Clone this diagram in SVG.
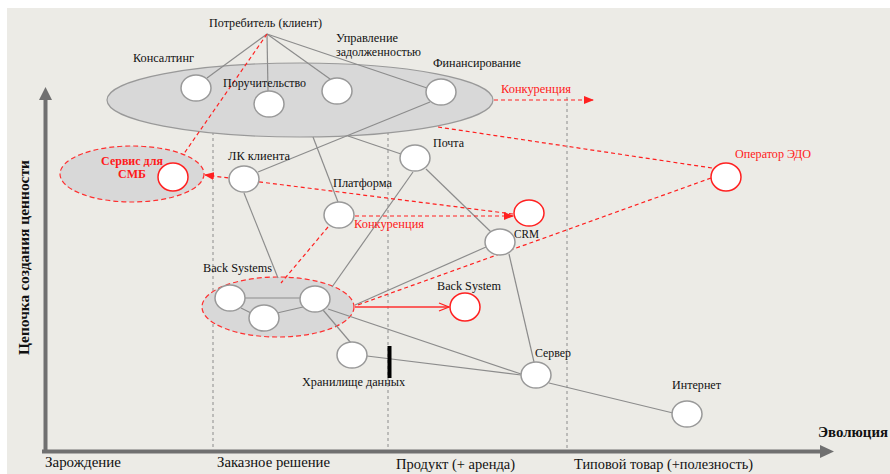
<svg xmlns="http://www.w3.org/2000/svg" width="890" height="474" viewBox="0 0 890 474">
<defs>
<style>
.t{font-family:"Liberation Serif","DejaVu Serif",serif;font-size:12px;fill:#111}
.ax{font-family:"Liberation Serif","DejaVu Serif",serif;font-size:14px;fill:#111}
.b{font-weight:bold}
.red{fill:#ff1a1a}
.n{fill:#fff;stroke:#999;stroke-width:1.5}
.nr{fill:#fff;stroke:#ff2020;stroke-width:1.5}
.l{stroke:#8c8c8c;stroke-width:1.2;fill:none}
.rd{stroke:#ff2020;stroke-width:1.2;stroke-dasharray:4,3;fill:none}
.vd{stroke:#8c8c8c;stroke-width:1;stroke-dasharray:3,3;fill:none}
</style>
<marker id="ar" markerWidth="10" markerHeight="8" refX="9" refY="4" orient="auto" markerUnits="userSpaceOnUse">
<path d="M0,0 L10,4 L0,8 Z" fill="#ff2020"/>
</marker>
<marker id="ao" markerWidth="12" markerHeight="10" refX="11" refY="5" orient="auto" markerUnits="userSpaceOnUse">
<path d="M1,1 L11,5 L1,9" fill="none" stroke="#ff2020" stroke-width="1.2"/>
</marker>
</defs>
<rect x="0" y="0" width="890" height="474" fill="#fff"/>
<rect x="7" y="8" width="883" height="466" fill="#ecebe6"/>

<g id="grid">
<line class="vd" x1="213" y1="90" x2="213" y2="450"/>
<line class="vd" x1="388" y1="84" x2="388" y2="450"/>
<line class="vd" x1="567" y1="97" x2="567" y2="450"/>
</g>

<g id="axes">
<line x1="45.5" y1="98" x2="45.5" y2="453" stroke="#707070" stroke-width="4"/>
<path d="M39,100 L45.5,87 L52,100 Z" fill="#707070"/>
<line x1="42" y1="451.5" x2="822" y2="451.5" stroke="#707070" stroke-width="4"/>
<path d="M820,445 L834,451.5 L820,458 Z" fill="#707070"/>
<text class="ax b" transform="translate(29,355) rotate(-90)" font-size="15" textLength="195" lengthAdjust="spacingAndGlyphs">Цепочка создания ценности</text>
<text class="ax b" x="818" y="437" font-size="15" textLength="70" lengthAdjust="spacingAndGlyphs">Эволюция</text>
<text class="ax" x="45" y="467" textLength="76" lengthAdjust="spacingAndGlyphs">Зарождение</text>
<text class="ax" x="217" y="467" textLength="113" lengthAdjust="spacingAndGlyphs">Заказное решение</text>
<text class="ax" x="396" y="469" textLength="119" lengthAdjust="spacingAndGlyphs">Продукт (+ аренда)</text>
<text class="ax" x="574" y="469" textLength="179" lengthAdjust="spacingAndGlyphs">Типовой товар (+полезность)</text>
</g>

<g id="groups">
<ellipse id="top-cluster" cx="300" cy="100" rx="193" ry="37" fill="#d8d8d8" stroke="#999" stroke-width="1.2"/>
<ellipse id="smb-cluster" cx="132" cy="174" rx="72" ry="28" fill="#d8d8d8" stroke="#ff3030" stroke-width="1.2" stroke-dasharray="5,3"/>
<ellipse id="back-cluster" cx="278" cy="307" rx="76" ry="30" fill="#d8d8d8" stroke="#ff3030" stroke-width="1.2" stroke-dasharray="5,3"/>
</g>

<g id="connectors">
<line class="l" x1="267" y1="34" x2="207" y2="78"/>
<line class="l" x1="267" y1="34" x2="268" y2="91"/>
<line class="l" x1="267" y1="34" x2="330" y2="79"/>
<line class="l" x1="267" y1="34" x2="427" y2="88"/>
<line class="l" x1="258" y1="172" x2="430" y2="102"/>
<line class="l" x1="313" y1="137" x2="338" y2="202"/>
<line class="l" x1="348" y1="136" x2="401" y2="154"/>
<line class="l" x1="426" y1="169" x2="491" y2="232"/>
<line class="l" x1="413" y1="172" x2="332" y2="287"/>
<line class="l" x1="486" y1="247" x2="355" y2="305"/>
<line class="l" x1="509" y1="254" x2="534" y2="362"/>
<line class="l" x1="244" y1="193" x2="278" y2="278"/>
<line class="l" x1="245" y1="298" x2="300" y2="298"/>
<line class="l" x1="241" y1="308" x2="251" y2="313"/>
<line class="l" x1="277" y1="313" x2="303" y2="307"/>
<line class="l" x1="323" y1="310" x2="351" y2="343"/>
<line class="l" x1="328" y1="309" x2="521" y2="374"/>
<line class="l" x1="367" y1="356" x2="521" y2="375"/>
<line class="l" x1="549" y1="383" x2="673" y2="413"/>
<line x1="389.5" y1="346" x2="389.5" y2="378" stroke="#000" stroke-width="4"/>
<line class="rd" x1="267" y1="34" x2="183" y2="155"/>
<line class="rd" x1="494" y1="100" x2="593" y2="100" marker-end="url(#ar)"/>
<line class="rd" x1="438" y1="127" x2="712" y2="168"/>
<line class="rd" x1="711" y1="178" x2="355" y2="306"/>
<line class="rd" x1="513" y1="214" x2="205" y2="175" marker-end="url(#ar)"/>
<line class="rd" x1="355" y1="216" x2="513" y2="216" marker-end="url(#ar)"/>
<line class="rd" x1="328" y1="227" x2="281" y2="283"/>
<line x1="355" y1="307" x2="449" y2="307" stroke="#ff3030" stroke-width="1.5" marker-end="url(#ao)"/>
</g>

<g id="labels">
<text class="t" x="209" y="27" textLength="113" lengthAdjust="spacingAndGlyphs">Потребитель (клиент)</text>
<text class="t red" x="501" y="93" textLength="70" lengthAdjust="spacingAndGlyphs">Конкуренция</text>
<text class="t red" x="354" y="228" textLength="70" lengthAdjust="spacingAndGlyphs">Конкуренция</text>
</g>

<g id="n-consulting"><ellipse class="n" cx="196" cy="88" rx="15" ry="13"/><text class="t" x="133" y="62" textLength="61" lengthAdjust="spacingAndGlyphs">Консалтинг</text></g>
<g id="n-guarantee"><ellipse class="n" cx="269" cy="104" rx="15" ry="13"/><text class="t" x="223" y="87" textLength="83" lengthAdjust="spacingAndGlyphs">Поручительство</text></g>
<g id="n-debt"><ellipse class="n" cx="337" cy="91" rx="15" ry="13"/><text class="t" x="336" y="42" textLength="62" lengthAdjust="spacingAndGlyphs">Управление</text><text class="t" x="336" y="56" textLength="85" lengthAdjust="spacingAndGlyphs">задолженностью</text></g>
<g id="n-finance"><ellipse class="n" cx="441" cy="92" rx="15" ry="13"/><text class="t" x="433" y="67" textLength="88" lengthAdjust="spacingAndGlyphs">Финансирование</text></g>
<g id="n-smb"><ellipse class="nr" cx="173" cy="177" rx="15" ry="14"/><text class="t b red" x="132" y="165" text-anchor="middle" font-size="11">Сервис для</text><text class="t b red" x="132" y="178" text-anchor="middle" font-size="11">СМБ</text></g>
<g id="n-lk"><ellipse class="n" cx="244" cy="179" rx="15" ry="13"/><text class="t" x="228" y="160" textLength="62" lengthAdjust="spacingAndGlyphs">ЛК клиента</text></g>
<g id="n-platform"><ellipse class="n" cx="339" cy="215" rx="15" ry="13"/><text class="t" x="333" y="187" textLength="59" lengthAdjust="spacingAndGlyphs">Платформа</text></g>
<g id="n-mail"><ellipse class="n" cx="415" cy="158" rx="15" ry="13"/><text class="t" x="433" y="147" textLength="31" lengthAdjust="spacingAndGlyphs">Почта</text></g>
<g id="n-crm-comp"><ellipse class="nr" cx="529" cy="213" rx="15" ry="13"/></g>
<g id="n-crm"><ellipse class="n" cx="500" cy="242" rx="15" ry="13"/><text class="t" x="514" y="238" textLength="25" lengthAdjust="spacingAndGlyphs">CRM</text></g>
<g id="n-edo"><ellipse class="nr" cx="726" cy="177" rx="15" ry="14"/><text class="t red" x="735" y="158" textLength="76" lengthAdjust="spacingAndGlyphs">Оператор ЭДО</text></g>
<g id="n-back-label"><text class="t" x="203" y="272" textLength="69" lengthAdjust="spacingAndGlyphs">Back Systems</text></g>
<g id="n-bs1"><ellipse class="n" cx="230" cy="298" rx="15" ry="13"/></g>
<g id="n-bs2"><ellipse class="n" cx="264" cy="318" rx="15" ry="13"/></g>
<g id="n-bs3"><ellipse class="n" cx="315" cy="299" rx="15" ry="13"/></g>
<g id="n-backsys"><ellipse class="nr" cx="465" cy="307" rx="15" ry="14"/><text class="t" x="437" y="290" textLength="64" lengthAdjust="spacingAndGlyphs">Back System</text></g>
<g id="n-storage"><ellipse class="n" cx="352" cy="355" rx="15" ry="13"/><text class="t" x="302" y="386" textLength="103" lengthAdjust="spacingAndGlyphs">Хранилище данных</text></g>
<g id="n-server"><ellipse class="n" cx="536" cy="375" rx="15" ry="13"/><text class="t" x="535" y="357" textLength="36" lengthAdjust="spacingAndGlyphs">Сервер</text></g>
<g id="n-internet"><ellipse class="n" cx="687" cy="414" rx="15" ry="13"/><text class="t" x="672" y="389" textLength="49" lengthAdjust="spacingAndGlyphs">Интернет</text></g>
</svg>
